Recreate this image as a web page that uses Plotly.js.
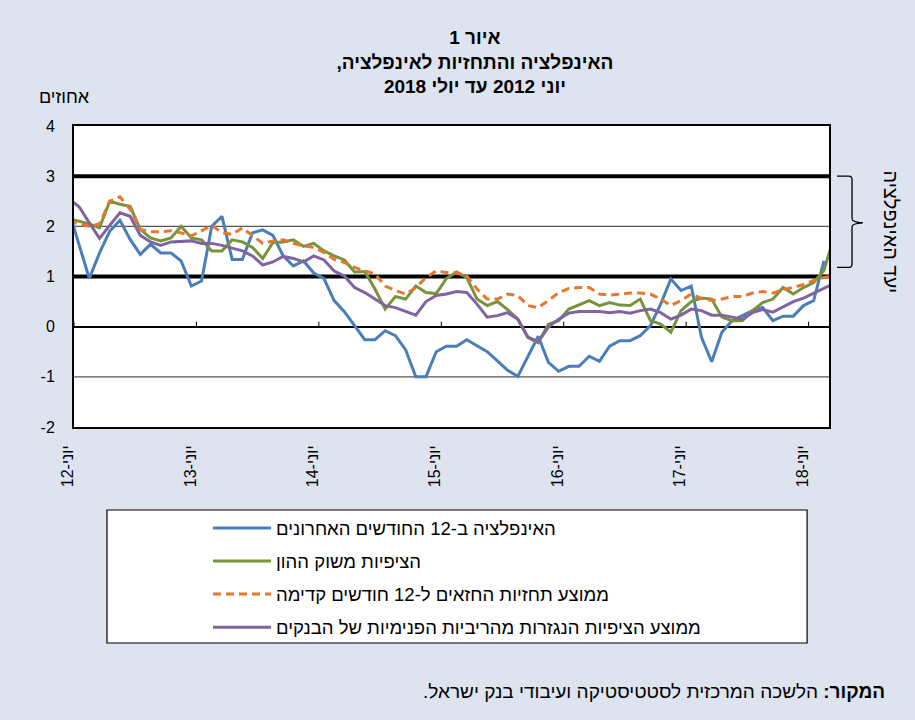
<!DOCTYPE html>
<html>
<head>
<meta charset="utf-8">
<script src="https://cdn.plot.ly/plotly-3.0.1.min.js"></script>
<style>html,body{margin:0;padding:0;background:#DDE3EF;}</style>
</head>
<body>
<div id="chart" style="width:915px;height:720px;"></div>
<script>
const months = ["2012-05","2012-06","2012-07","2012-08","2012-09","2012-10","2012-11","2012-12",
"2013-01","2013-02","2013-03","2013-04","2013-05","2013-06","2013-07","2013-08","2013-09","2013-10","2013-11","2013-12",
"2014-01","2014-02","2014-03","2014-04","2014-05","2014-06","2014-07","2014-08","2014-09","2014-10","2014-11","2014-12",
"2015-01","2015-02","2015-03","2015-04","2015-05","2015-06","2015-07","2015-08","2015-09","2015-10","2015-11","2015-12",
"2016-01","2016-02","2016-03","2016-04","2016-05","2016-06","2016-07","2016-08","2016-09","2016-10","2016-11","2016-12",
"2017-01","2017-02","2017-03","2017-04","2017-05","2017-06","2017-07","2017-08","2017-09","2017-10","2017-11","2017-12",
"2018-01","2018-02","2018-03","2018-04","2018-05","2018-06","2018-07","2018-08"];

const inflation = [2.30,1.65,0.96,1.47,1.90,2.12,1.74,1.44,1.64,1.47,1.47,1.31,0.81,0.91,2.00,2.20,1.34,1.34,1.87,1.93,
1.82,1.41,1.21,1.31,1.07,0.96,0.52,0.30,0.02,-0.26,-0.26,-0.08,-0.18,-0.46,-1.00,-1.00,-0.50,-0.39,-0.39,-0.26,
-0.38,-0.50,-0.68,-0.87,-0.99,-0.60,-0.19,-0.71,-0.89,-0.79,-0.79,-0.59,-0.69,-0.39,-0.28,-0.28,-0.18,0.02,0.45,0.95,
0.72,0.81,-0.21,-0.70,-0.11,0.12,0.22,0.32,0.38,0.12,0.21,0.21,0.42,0.52,1.31,null];

const capitalMarket = [2.15,2.10,2.05,1.97,2.50,2.44,2.40,1.94,1.77,1.71,1.77,2.00,1.77,1.73,1.51,1.51,1.73,1.69,1.58,1.36,
1.68,1.69,1.73,1.60,1.66,1.51,1.41,1.33,1.09,1.10,0.75,0.35,0.60,0.55,0.81,0.68,0.66,0.96,1.09,0.98,
0.55,0.42,0.50,0.34,0.15,-0.22,-0.32,0.05,0.12,0.35,0.43,0.52,0.42,0.48,0.43,0.42,0.55,0.12,0.05,-0.11,
0.32,0.50,0.57,0.55,0.19,0.12,0.12,0.32,0.48,0.55,0.78,0.65,0.78,0.88,1.12,1.80];

const forecasters = [2.10,2.05,2.00,2.05,2.50,2.59,2.34,1.94,1.89,1.89,1.91,1.87,1.81,1.91,2.02,1.87,1.84,1.97,1.81,1.66,
1.71,1.73,1.66,1.61,1.58,1.48,1.34,1.28,1.18,1.11,1.05,0.81,0.72,0.65,0.78,0.98,1.11,1.08,1.07,1.01,
0.75,0.55,0.55,0.65,0.62,0.42,0.38,0.52,0.68,0.76,0.78,0.78,0.65,0.63,0.65,0.67,0.67,0.65,0.55,0.42,
0.52,0.65,0.56,0.52,0.55,0.60,0.60,0.67,0.70,0.67,0.74,0.78,0.84,0.92,0.98,1.01];

const banks = [2.55,2.39,2.07,1.76,2.02,2.27,2.20,1.82,1.69,1.62,1.69,1.70,1.71,1.66,1.66,1.62,1.56,1.51,1.41,1.23,
1.29,1.40,1.36,1.29,1.41,1.33,1.11,1.01,0.78,0.68,0.55,0.42,0.38,0.30,0.23,0.50,0.62,0.65,0.70,0.68,
0.45,0.19,0.22,0.28,0.15,-0.21,-0.30,-0.01,0.15,0.27,0.30,0.30,0.30,0.28,0.30,0.27,0.32,0.35,0.28,0.15,
0.23,0.35,0.32,0.23,0.23,0.19,0.15,0.28,0.34,0.29,0.40,0.50,0.57,0.67,0.76,0.86];

const seriesNames = ["האינפלציה ב-12 החודשים האחרונים","הציפיות משוק ההון","ממוצע תחזיות החזאים ל-12 חודשים קדימה","ממוצע הציפיות הנגזרות מהריביות הפנימיות של הבנקים"];
const tickMonths = ["2012-06","2013-06","2014-06","2015-06","2016-06","2017-06","2018-06"];
const tickLabels = ["יוני-12","יוני-13","יוני-14","יוני-15","יוני-16","יוני-17","יוני-18"];
const yTickVals = [-2,-1,0,1,2,3,4];
const yTickText = ["-2","-1","0","1","2","3","4"];
const targetBand = [1, 3];
const thinGrid = [-1, 2];

const FONT = "Liberation Sans, Arial, DejaVu Sans, sans-serif";
const tickvals = tickMonths.map(m => months.indexOf(m) - 0.5);
const xRange = [months.indexOf("2012-06") - 0.5, months.indexOf("2018-07") + 0.5];

const mk = (y, name, color, dash, g) => ({
  x: months, y: y, name: name, type: 'scatter', mode: 'lines',
  line: {color: color, width: 3, dash: dash}, legendgroup: g,
  cliponaxis: true, connectgaps: false
});
const traces = [
  mk(inflation, seriesNames[0], '#4A7EBB', 'solid', 'a'),
  mk(capitalMarket, seriesNames[1], '#77933C', 'solid', 'b'),
  mk(forecasters, seriesNames[2], '#E8772E', '8px,5px', 'c'),
  mk(banks, seriesNames[3], '#8064A2', 'solid', 'd')
];

const shapes = [];
thinGrid.forEach(v => shapes.push({type:'line', xref:'paper', yref:'y', x0:0, x1:1, y0:v, y1:v,
  line:{color:'#555', width:1.3}, layer:'below'}));
targetBand.forEach(v => shapes.push({type:'line', xref:'paper', yref:'y', x0:0, x1:1, y0:v, y1:v,
  line:{color:'#000', width:4}, layer:'below'}));
tickvals.forEach(t => shapes.push({type:'line', xref:'x', yref:'y', x0:t, x1:t, y0:0, y1:0.1,
  line:{color:'#000', width:1}, layer:'above'}));
// bracket for target range
shapes.push({type:'path', xref:'paper', yref:'y',
  path:'M 1.0106,3 L 1.026,3 Q 1.0305,3 1.0305,2.93 L 1.0305,2.15 Q 1.0305,2.08 1.045,2.07 Q 1.0305,2.06 1.0305,1.99 L 1.0305,1.25 Q 1.0305,1.18 1.026,1.18 L 1.0106,1.18',
  line:{color:'#000', width:1.3}});
// legend box
shapes.push({type:'rect', xref:'paper', yref:'paper', x0:0.0437, x1:0.971, y0:-0.7176, y1:-0.2757,
  line:{color:'#000', width:1.2}, fillcolor:'#fff', layer:'below'});

const layout = {
  width: 915, height: 720,
  margin: {l:74, r:86, t:126, b:293},
  paper_bgcolor: '#DDE3EF', plot_bgcolor: '#FFFFFF',
  font: {family: FONT, color: '#000', size: 14},
  title: {text: 'איור 1<br>האינפלציה והתחזיות לאינפלציה,\u200F<br>יוני 2012 עד יולי 2018',
    font: {family: FONT, size: 19, weight: 700, color:'#000'},
    x: 0.519, xanchor: 'center', y: 1 - 44/720, yanchor: 'top'},
  xaxis: {type: 'category', range: xRange, tickmode: 'array', tickvals: tickvals, ticktext: tickLabels,
    tickangle: -90, ticks: '', showgrid: false, zeroline: false, showline: true, mirror: true,
    linecolor: '#000', linewidth: 2, ticklabelshift: -6, ticklabelstandoff: 10,
    tickfont: {family: FONT, size: 16, color:'#000'}},
  yaxis: {range: [-2, 4], tickmode: 'array', tickvals: yTickVals, ticktext: yTickText,
    showgrid: false,
    zeroline: true, zerolinecolor: '#000', zerolinewidth: 2, showline: true, mirror: true,
    linecolor: '#000', linewidth: 2, ticks: '', ticklabelstandoff: 14,
    tickfont: {family: FONT, size: 16, color:'#000'}},
  showlegend: true,
  legend: {x: 0.1775, xanchor: 'left', y: -0.274, yanchor: 'top', bgcolor: 'rgba(0,0,0,0)',
    borderwidth: 0, font: {family: FONT, size: 18.5, color:'#000'}, traceorder: 'grouped',
    tracegroupgap: 6, itemwidth: 58},
  shapes: shapes,
  annotations: [
    {text: 'אחוזים', xref:'paper', yref:'paper', x: -0.012, y: 1.096, xanchor:'center', yanchor:'middle',
      showarrow:false, font:{family: FONT, size: 18, color:'#000'}},
    {text: 'יעד האינפלציה', xref:'paper', yref:'y', x: 1.082, y: 1.88, xanchor:'center', yanchor:'middle',
      textangle: 90, showarrow:false, font:{family: FONT, size: 20, color:'#000'}},
    {text: '<b>המקור:</b> הלשכה המרכזית לסטטיסטיקה ועיבודי בנק ישראל.\u200F', xref:'paper', yref:'paper',
      x: 1.0768, y: (427-691)/301, xanchor:'right', yanchor:'middle', showarrow:false,
      font:{family: FONT, size: 19, color:'#000'}}
  ]
};

Plotly.newPlot('chart', traces, layout, {displayModeBar: false, responsive: false});
</script>
</body>
</html>
